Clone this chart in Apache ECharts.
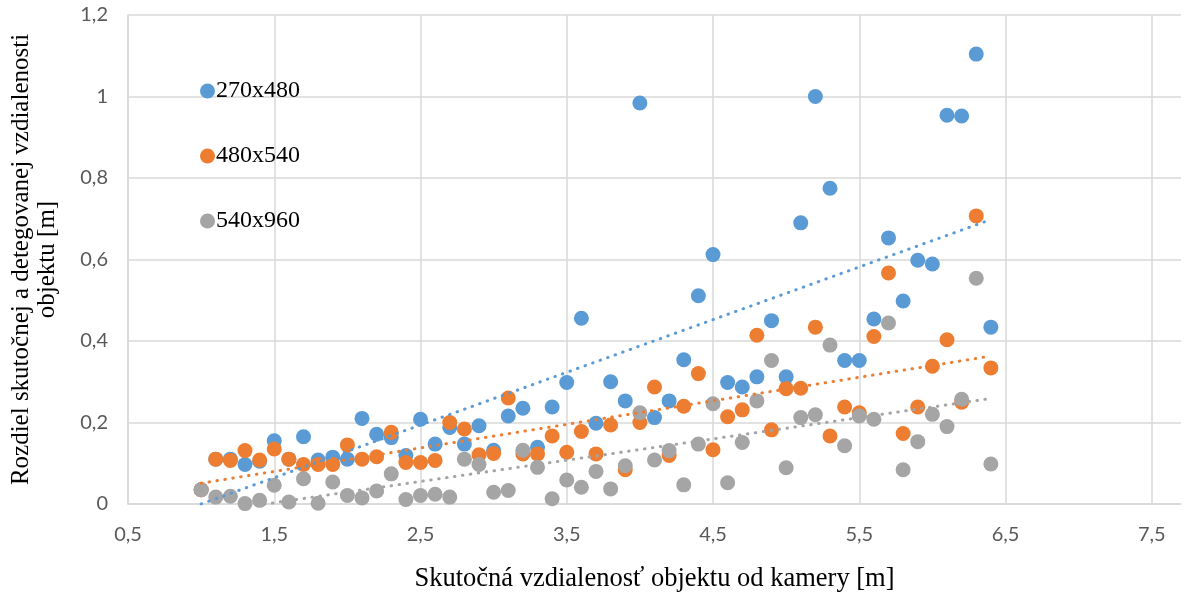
<!DOCTYPE html>
<html>
<head>
<meta charset="utf-8">
<script src="https://cdn.jsdelivr.net/npm/echarts@6/dist/echarts.min.js"></script>
<style>
html,body{margin:0;padding:0;background:#fff;}
#chart{width:1186px;height:598px;}
</style>
</head>
<body>
<div id="chart"></div>
<script>
// Distances [m]
var xValues = [1.0,1.1,1.2,1.3,1.4,1.5,1.6,1.7,1.8,1.9,
               2.0,2.1,2.2,2.3,2.4,2.5,2.6,2.7,2.8,2.9,
               3.0,3.1,3.2,3.3,3.4,3.5,3.6,3.7,3.8,3.9,
               4.0,4.1,4.2,4.3,4.4,4.5,4.6,4.7,4.8,4.9,
               5.0,5.1,5.2,5.3,5.4,5.5,5.6,5.7,5.8,5.9,
               6.0,6.1,6.2,6.3,6.4];
var seriesNames = ['270x480','480x540','540x960'];
var values270x480 = [0.035,0.11,0.11,0.097,0.105,0.155,0.11,0.165,0.108,0.115,
                     0.11,0.21,0.171,0.163,0.119,0.208,0.147,0.188,0.147,0.192,
                     0.132,0.216,0.235,0.139,0.238,0.298,0.456,0.198,0.3,0.253,
                     0.984,0.212,0.253,0.354,0.511,0.612,0.298,0.287,0.312,0.45,
                     0.312,0.69,1.0,0.775,0.352,0.352,0.454,0.653,0.498,0.598,
                     0.589,0.954,0.952,1.104,0.434];
var values480x540 = [0.035,0.11,0.107,0.131,0.108,0.135,0.11,0.097,0.097,0.097,
                     0.145,0.11,0.116,0.176,0.102,0.102,0.107,0.2,0.184,0.121,
                     0.124,0.26,0.123,0.123,0.167,0.127,0.178,0.123,0.194,0.084,
                     0.2,0.287,0.119,0.24,0.32,0.133,0.214,0.231,0.414,0.182,
                     0.283,0.284,0.434,0.167,0.238,0.224,0.411,0.567,0.173,0.238,
                     0.338,0.403,0.25,0.707,0.334];
var values540x960 = [0.035,0.017,0.019,0.001,0.009,0.046,0.005,0.062,0.002,0.054,
                     0.021,0.015,0.032,0.074,0.011,0.021,0.024,0.017,0.11,0.097,
                     0.029,0.033,0.132,0.09,0.013,0.059,0.041,0.08,0.037,0.094,
                     0.224,0.108,0.131,0.047,0.147,0.246,0.052,0.151,0.253,0.352,
                     0.089,0.212,0.219,0.39,0.143,0.216,0.208,0.444,0.084,0.153,
                     0.22,0.19,0.257,0.554,0.098];
// Linear trend lines: value at first and last x
var trendX = [1.0, 6.4];
var trend270x480 = [0.0, 0.698];
var trend480x540 = [0.051, 0.363];
var trend540x960 = [-0.023, 0.259];

var colors = ['#5B9BD5','#ED7D31','#A5A5A5'];
var allValues = [values270x480, values480x540, values540x960];
var allTrends = [trend270x480, trend480x540, trend540x960];

function pairs(xs, ys){ return xs.map(function(x,i){ return [x, ys[i]]; }); }
function fmt(v){ return String(+(+v).toFixed(1)).replace('.', ','); }

var series = [];
seriesNames.forEach(function(name, i){
  series.push({
    name: name, type: 'scatter', symbol: 'circle', symbolSize: 15,
    itemStyle: { color: colors[i], opacity: 1 },
    z: 2 + i,
    data: pairs(xValues, allValues[i])
  });
});
seriesNames.forEach(function(name, i){
  series.push({
    name: name + ' trend', type: 'line', symbol: 'none', silent: true,
    clip: true, z: 10,
    lineStyle: { color: colors[i], width: 3, type: [0.5, 7.5], cap: 'round' },
    data: pairs(trendX, allTrends[i])
  });
});

var chart = echarts.init(document.getElementById('chart'), null, {renderer: 'canvas'});
chart.setOption({
  animation: false,
  backgroundColor: '#ffffff',
  grid: { left: 124, right: 5, top: 15, bottom: 91, containLabel: false },
  legend: {
    data: seriesNames,
    orient: 'vertical',
    left: 195, top: 73,
    icon: 'circle', itemWidth: 15, itemHeight: 15, itemGap: 39,
    textStyle: { fontFamily: 'Liberation Serif', fontSize: 24, color: '#000', padding: [0,0,0,-4], lineHeight: 26 }
  },
  xAxis: {
    type: 'value', min: 0.5, max: 7.7, interval: 1,
    name: 'Skutočná vzdialenosť objektu od kamery [m]',
    nameLocation: 'middle', nameGap: 62,
    nameTextStyle: { fontFamily: 'Liberation Serif', fontSize: 26.5, color: '#000' },
    axisLine: { show: true, lineStyle: { color: '#D9D9D9', width: 1.5 } },
    axisTick: { show: false },
    axisLabel: { formatter: fmt, color: '#595959', fontFamily: 'Lato', fontSize: 20, margin: 21, showMaxLabel: false },
    splitLine: { show: true, showMaxLine: false, lineStyle: { color: '#D9D9D9', width: 1.5 } }
  },
  yAxis: {
    type: 'value', min: 0, max: 1.2, interval: 0.2,
    name: 'Rozdiel skutočnej a detegovanej vzdialenosti\nobjektu [m]',
    nameLocation: 'middle', nameGap: 68, nameRotate: 90,
    nameTextStyle: { fontFamily: 'Liberation Serif', fontSize: 25, color: '#000', lineHeight: 26 },
    axisLine: { show: true, lineStyle: { color: '#D9D9D9', width: 1.5 } },
    axisTick: { show: false },
    axisLabel: { formatter: fmt, color: '#595959', fontFamily: 'Lato', fontSize: 20, margin: 20 },
    splitLine: { show: true, lineStyle: { color: '#D9D9D9', width: 1.5 } }
  },
  series: series
});
</script>
</body>
</html>
